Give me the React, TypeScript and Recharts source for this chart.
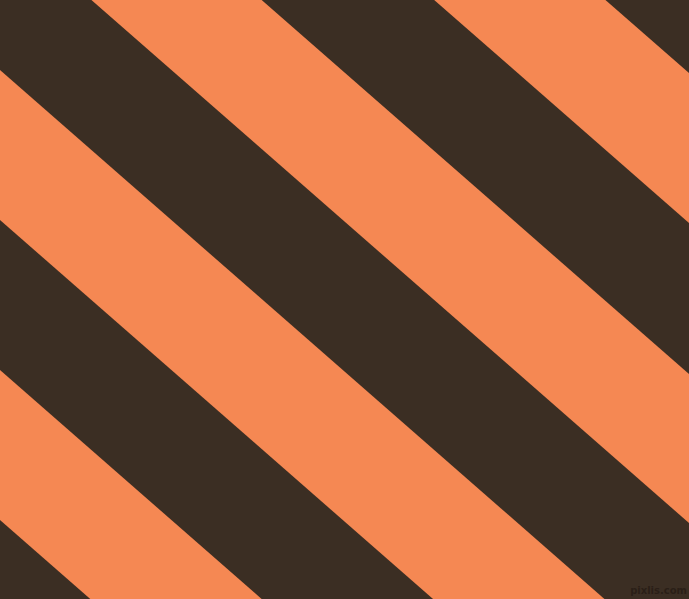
import { Area, ComposedChart, XAxis, YAxis } from "recharts";

const WIDTH = 689;
const HEIGHT = 599;

// x positions where the stripe edges are sampled (left and right side of the picture)
const edgeX = [0, 689];

// orange bands: [top edge y, bottom edge y] on the left side and on the right side
const bandLeft = [
  [-529, -380],
  [-229, -80],
  [70, 220],
  [370, 520],
];
const bandRight = [
  [73, 223],
  [374, 523],
  [673, 823],
  [973, 1123],
];

const dark = "#3b2e23";
const orange = "#f58853";

const data = edgeX.map((x, i) => {
  const row: Record<string, number | number[]> = { x };
  const source = i === 0 ? bandLeft : bandRight;
  source.forEach((range, b) => {
    row[`band${b}`] = range;
  });
  return row;
});

export default function App() {
  return (
    <div
      style={{
        position: "absolute",
        top: 0,
        left: 0,
        width: WIDTH,
        height: HEIGHT,
        background: dark,
        overflow: "hidden",
      }}
    >
      <ComposedChart
        width={WIDTH}
        height={HEIGHT}
        data={data}
        margin={{ top: 0, right: 0, bottom: 0, left: 0 }}
      >
        <XAxis dataKey="x" type="number" domain={[0, WIDTH]} allowDataOverflow hide />
        <YAxis type="number" domain={[0, HEIGHT]} reversed allowDataOverflow hide />
        {bandLeft.map((_, b) => (
          <Area
            key={b}
            type="linear"
            dataKey={`band${b}`}
            stroke="none"
            fill={orange}
            fillOpacity={1}
            dot={false}
            activeDot={false}
            isAnimationActive={false}
          />
        ))}
      </ComposedChart>
      <span
        style={{
          position: "absolute",
          right: 2,
          bottom: 3,
          fontFamily: "DejaVu Sans",
          fontWeight: "bold",
          fontSize: 10,
          color: "#2a1f17",
        }}
      >
        pixlis.com
      </span>
    </div>
  );
}
